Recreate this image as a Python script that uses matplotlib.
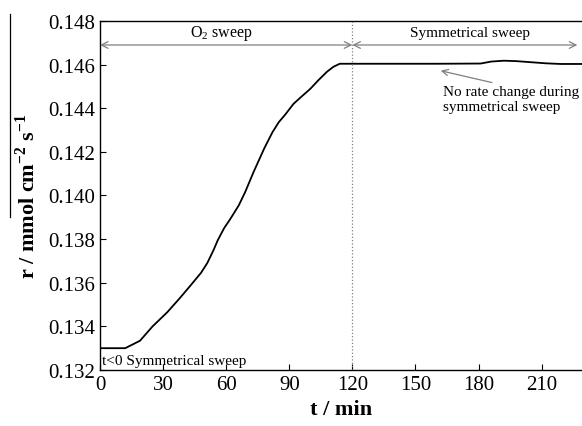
import matplotlib
matplotlib.use("Agg")
import matplotlib.pyplot as plt
from matplotlib.lines import Line2D

plt.rcParams['font.family'] = ['Liberation Serif', 'DejaVu Serif']
plt.rcParams['mathtext.fontset'] = 'custom'
plt.rcParams['mathtext.rm'] = 'Liberation Serif'
plt.rcParams['mathtext.bf'] = 'Liberation Serif:bold'

# rate vs time
t_min = [0, 5, 12, 19, 25, 32, 38, 43, 48, 51, 54, 56, 59, 62, 66, 69, 73, 78,
         82, 85, 88, 92, 96, 100, 104, 108, 111, 114, 120, 140, 160, 181, 186,
         192, 198, 205, 212, 219, 225, 229]
rate = [0.1330, 0.1330, 0.1330, 0.13334, 0.1340, 0.13465, 0.1353, 0.13587,
        0.13645, 0.13690, 0.13750, 0.13795, 0.13850, 0.13893, 0.13955, 0.14015,
        0.14107, 0.14214, 0.14290, 0.14336, 0.14370, 0.14420, 0.14455, 0.14489,
        0.14530, 0.14568, 0.14590, 0.14604, 0.14604, 0.14604, 0.14604, 0.14605,
        0.14614, 0.14618, 0.14616, 0.14611, 0.14606, 0.14603, 0.14603, 0.14603]

x_ticks = [0, 30, 60, 90, 120, 150, 180, 210]
y_ticks = [0.132, 0.134, 0.136, 0.138, 0.140, 0.142, 0.144, 0.146, 0.148]
switch_t = 120
arrow_r = 0.1469

fig = plt.figure(figsize=(5.82, 4.27), dpi=100)
ax = fig.add_axes([100 / 582, 56 / 427, 482 / 582, 349 / 427])

ax.plot(t_min, rate, color='black', lw=1.3)
ax.axvline(switch_t, color='grey', ls=':', lw=0.9)

ax.set_xlim(0, 229.2)
ax.set_ylim(0.132, 0.148)
ax.set_xticks(x_ticks)
ax.set_yticks(y_ticks)
ax.set_yticklabels(['%.3f' % v for v in y_ticks])
ax.tick_params(direction='in', labelsize=15, length=4, width=0.8)
ax.spines['right'].set_visible(False)
for s in ['left', 'bottom', 'top']:
    ax.spines[s].set_linewidth(1.0)

ax.set_xlabel('t / min', fontsize=16, fontweight='bold', labelpad=4)
ax.set_ylabel(r'r / mmol cm$^{\mathbf{-2}}$ s$^{\mathbf{-1}}$', fontsize=16,
              fontweight='bold', labelpad=6)

# phase arrows
arrow_kw = dict(arrowstyle='<->', color='grey', lw=0.9, shrinkA=0, shrinkB=0,
                mutation_scale=12)
ax.annotate('', xy=(0, arrow_r), xytext=(switch_t, arrow_r), arrowprops=arrow_kw)
ax.annotate('', xy=(switch_t, arrow_r), xytext=(227, arrow_r), arrowprops=arrow_kw)
ax.text(58, 0.14745, r'O$_2$ sweep', ha='center', va='center', fontsize=11.5)
ax.text(176, 0.14745, 'Symmetrical sweep', ha='center', va='center', fontsize=11)

ax.annotate('No rate change during\nsymmetrical sweep', xy=(162, 0.14572),
            xytext=(163, 0.14505), ha='left', va='top', fontsize=11,
            linespacing=1.15,
            arrowprops=dict(arrowstyle='->', color='grey', lw=0.9,
                            shrinkA=0, shrinkB=0, relpos=(0.45, 1.0)))

ax.text(1, 0.13212, 't<0 Symmetrical sweep', ha='left', va='bottom', fontsize=11)

# stray bar over the y label in the original
fig.add_artist(Line2D([10 / 582, 10 / 582], [1 - 15 / 427, 1 - 218 / 427],
                      color='black', lw=0.9))

fig.savefig('out.png', dpi=100)
